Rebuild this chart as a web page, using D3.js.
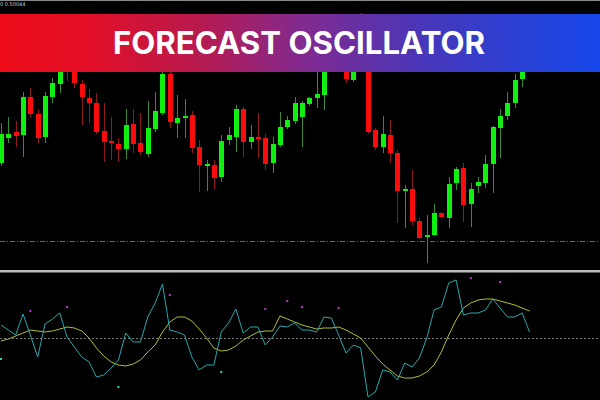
<!DOCTYPE html>
<html>
<head>
<meta charset="utf-8">
<script src="https://cdn.jsdelivr.net/npm/d3@7/dist/d3.min.js"></script>
<style>
  html, body { margin: 0; padding: 0; background: #000; }
  svg { display: block; }
</style>
</head>
<body>
<svg id="chart" width="600" height="400"></svg>
<script>
// ---- DATA ----
const title = "FORECAST OSCILLATOR";
const infoLabel = "0 0.50044";
const openP  = [1.1107,1.1132,1.1138,1.1135,1.1173,1.1156,1.1133,1.1173,1.1186,1.1210,1.1202,1.1186,1.1172,1.1167,1.1139,1.1129,1.1126,1.1121,1.1146,1.1127,1.1116,1.1141,1.1157,1.1196,1.1147,1.1152,1.1155,1.1123,1.1104,1.1105,1.1093,1.1130,1.1133,1.1161,1.1128,1.1133,1.1132,1.1107,1.1125,1.1143,1.1149,1.1153,1.1166,1.1172,1.1175,1.1204,1.1228,1.1215,1.1190,1.1208,1.1238,1.1140,1.1123,1.1135,1.1117,1.1079,1.1081,1.1049,1.1033,1.1035,1.1057,1.1052,1.1087,1.1102,1.1066,1.1084,1.1087,1.1106,1.1142,1.1154,1.1167,1.1191,1.1202];
const highP  = [1.1147,1.1153,1.1149,1.1178,1.1182,1.1161,1.1178,1.1192,1.1208,1.1220,1.1210,1.1190,1.1181,1.1177,1.1167,1.1153,1.1132,1.1161,1.1161,1.1157,1.1169,1.1178,1.1200,1.1198,1.1175,1.1171,1.1159,1.1130,1.1110,1.1110,1.1135,1.1143,1.1165,1.1163,1.1145,1.1157,1.1136,1.1133,1.1158,1.1154,1.1173,1.1169,1.1173,1.1198,1.1210,1.1240,1.1235,1.1220,1.1215,1.1257,1.1242,1.1142,1.1154,1.1150,1.1120,1.1085,1.1100,1.1052,1.1055,1.1066,1.1058,1.1093,1.1103,1.1107,1.1087,1.1093,1.1115,1.1144,1.1161,1.1178,1.1196,1.1208,1.1225];
const lowP   = [1.1104,1.1127,1.1123,1.1113,1.1152,1.1127,1.1127,1.1167,1.1177,1.1189,1.1182,1.1145,1.1147,1.1136,1.1108,1.1110,1.1108,1.1111,1.1117,1.1115,1.1113,1.1138,1.1155,1.1142,1.1132,1.1132,1.1117,1.1078,1.1079,1.1081,1.1088,1.1125,1.1118,1.1113,1.1121,1.1112,1.1100,1.1097,1.1123,1.1141,1.1146,1.1123,1.1164,1.1162,1.1160,1.1200,1.1202,1.1187,1.1188,1.1204,1.1136,1.1120,1.1117,1.1107,1.1047,1.1042,1.1045,1.1031,1.1007,1.1034,1.1052,1.1042,1.1080,1.1048,1.1043,1.1077,1.1082,1.1077,1.1112,1.1150,1.1162,1.1183,1.1200];
const closeP = [1.1136,1.1136,1.1134,1.1173,1.1156,1.1132,1.1174,1.1187,1.1202,1.1204,1.1187,1.1173,1.1167,1.1138,1.1128,1.1127,1.1121,1.1145,1.1126,1.1118,1.1142,1.1159,1.1196,1.1148,1.1152,1.1154,1.1122,1.1105,1.1106,1.1092,1.1129,1.1135,1.1161,1.1128,1.1133,1.1131,1.1106,1.1126,1.1143,1.1150,1.1167,1.1167,1.1172,1.1176,1.1204,1.1230,1.1212,1.1191,1.1210,1.1240,1.1138,1.1123,1.1136,1.1117,1.1079,1.1081,1.1049,1.1032,1.1035,1.1057,1.1053,1.1086,1.1101,1.1065,1.1081,1.1088,1.1106,1.1143,1.1154,1.1167,1.1190,1.1202,1.1220];
const levelP = 1.1029;
// Oscillator
const forecastOsc = [0.13,0.08,0.03,0.24,0.03,-0.19,0.14,0.19,0.25,0.01,-0.09,-0.19,-0.24,-0.39,-0.37,-0.30,-0.22,0.05,-0.04,-0.04,0.21,0.35,0.54,0.08,0.06,0.03,-0.19,-0.32,-0.27,-0.27,0.06,0.15,0.29,0.05,0.11,0.11,-0.07,0.01,0.12,0.11,0.15,0.08,0.08,0.06,0.21,0.20,0.03,-0.15,-0.07,-0.10,-0.59,-0.54,-0.32,-0.34,-0.42,-0.25,-0.29,-0.20,0.00,0.28,0.31,0.55,0.58,0.23,0.25,0.25,0.28,0.39,0.30,0.21,0.21,0.25,0.06];
const signalLine = [-0.03,-0.01,0.02,0.05,0.08,0.07,0.06,0.07,0.09,0.11,0.10,0.07,0.00,-0.10,-0.18,-0.24,-0.27,-0.28,-0.26,-0.22,-0.14,-0.07,0.06,0.16,0.21,0.21,0.17,0.09,0.00,-0.10,-0.13,-0.12,-0.08,-0.02,0.02,0.06,0.07,0.07,0.22,0.19,0.16,0.13,0.11,0.09,0.10,0.10,0.11,0.08,0.04,0.00,-0.09,-0.18,-0.26,-0.32,-0.38,-0.40,-0.40,-0.38,-0.34,-0.27,-0.14,0.03,0.18,0.30,0.35,0.38,0.39,0.39,0.37,0.35,0.33,0.30,0.27];
const upDotBars = [4,9,23,36,39,41,46,64,68];
const upDotVals = [0.27,0.31,0.43,0.29,0.37,0.31,0.30,0.60,0.56];
const dnDotBars = [0,16,30];
const dnDotVals = [-0.21,-0.49,-0.34];

// ---- DRAW ----
const svg = d3.select("#chart");
svg.append("rect").attr("width",600).attr("height",400).attr("fill","#000");

const x = d3.scaleLinear().domain([0, openP.length - 1]).range([1, 529.5]);
const y = d3.scaleLinear().domain([1.1000, 1.1270]).range([270, 0]);
const yo = d3.scaleLinear().domain([-0.62, 0.65]).range([400, 273]);

const main = svg.append("g");
main.append("clipPath").attr("id","mainclip").append("rect").attr("x",0).attr("y",0).attr("width",600).attr("height",270);
const cg = main.append("g").attr("clip-path","url(#mainclip)");

// level line
cg.append("line").attr("x1",0).attr("x2",600).attr("y1",y(levelP)+0.5).attr("y2",y(levelP)+0.5)
  .attr("stroke","#2e8c50").attr("stroke-width",1).attr("stroke-dasharray","5,2,1,2");

const bars = d3.range(openP.length);
const up = i => closeP[i] >= openP[i];
cg.selectAll("line.wick").data(bars).join("line").attr("class","wick")
  .attr("x1", i => Math.round(x(i)) + 0.5).attr("x2", i => Math.round(x(i)) + 0.5)
  .attr("y1", i => y(highP[i])).attr("y2", i => y(lowP[i]))
  .attr("stroke", i => up(i) ? "#3a8a3a" : "#8c1c1c").attr("stroke-width",1);
cg.selectAll("rect.body").data(bars).join("rect").attr("class","body")
  .attr("x", i => Math.round(x(i)) - 2)
  .attr("width", 5)
  .attr("y", i => y(Math.max(openP[i], closeP[i])))
  .attr("height", i => Math.max(1.5, Math.abs(y(openP[i]) - y(closeP[i]))))
  .attr("fill", i => up(i) ? "#10f010" : "#f80c0c");

// top border + info label
svg.append("rect").attr("x",0).attr("y",0).attr("width",600).attr("height",1).attr("fill","#8a8a8a");
svg.append("text").attr("x",0).attr("y",6).attr("font-family","DejaVu Sans, sans-serif")
  .attr("font-size",5).attr("fill","#cfcfcf").text(infoLabel);

// banner
const defs = svg.append("defs");
const grad = defs.append("linearGradient").attr("id","bannerGrad").attr("x1","0%").attr("x2","100%").attr("y1","0%").attr("y2","0%");
[[0,"#ee0c18"],[0.15,"#e20f28"],[0.33,"#b81a4e"],[0.5,"#832a8f"],[0.7,"#4936b8"],[0.85,"#2c3fd2"],[1,"#1647ea"]]
  .forEach(([o,c]) => grad.append("stop").attr("offset",o).attr("stop-color",c));
svg.append("rect").attr("x",0).attr("y",14).attr("width",600).attr("height",58).attr("fill","url(#bannerGrad)");
svg.append("text").attr("x",299).attr("y",54).attr("text-anchor","middle")
  .attr("font-family","Inter, 'Open Sans', sans-serif").attr("font-weight",700)
  .attr("font-size",31).attr("fill","#fff")
  .attr("textLength",372).attr("lengthAdjust","spacingAndGlyphs").text(title);

// separator
svg.append("rect").attr("x",0).attr("y",270).attr("width",600).attr("height",2.5).attr("fill","#bdbdbd");

// oscillator panel
const og = svg.append("g");
og.append("line").attr("x1",0).attr("x2",600).attr("y1",yo(0)+0.5).attr("y2",yo(0)+0.5)
  .attr("stroke","#7a7a7a").attr("stroke-width",1).attr("stroke-dasharray","2,2");
const lineGen = arr => d3.line().x((d,i) => x(i)).y(d => yo(d))(arr);
og.append("path").attr("d", lineGen(signalLine)).attr("fill","none")
  .attr("stroke","#b0c030").attr("stroke-width",1);
og.append("path").attr("d", lineGen(forecastOsc)).attr("fill","none")
  .attr("stroke","#2aa8ac").attr("stroke-width",1);
og.selectAll("rect.upd").data(upDotBars).join("rect").attr("class","upd")
  .attr("x",(d)=>x(d)-1).attr("y",(d,i)=>yo(upDotVals[i])-1).attr("width",2).attr("height",2).attr("fill","#c030c8");
og.selectAll("rect.dnd").data(dnDotBars).join("rect").attr("class","dnd")
  .attr("x",(d)=>x(d)-1).attr("y",(d,i)=>yo(dnDotVals[i])-1).attr("width",2).attr("height",2).attr("fill","#30c8c8");
</script>
</body>
</html>
